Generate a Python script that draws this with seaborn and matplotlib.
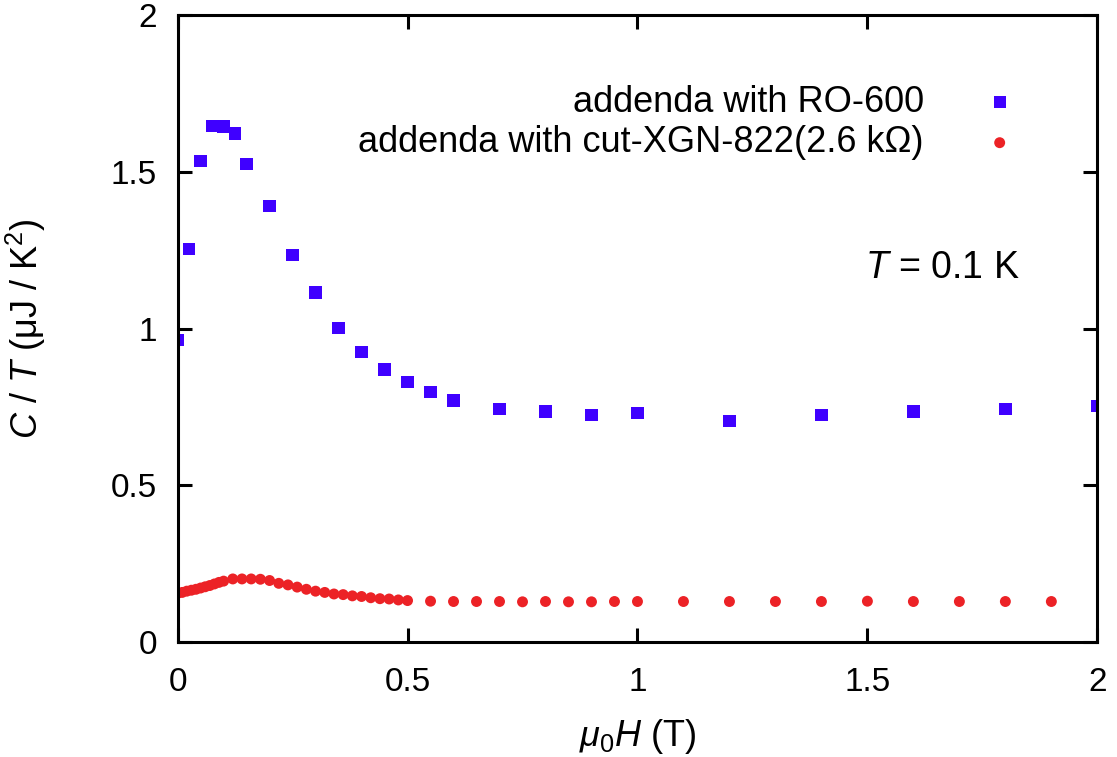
import matplotlib
matplotlib.use("Agg")
import matplotlib.pyplot as plt
import seaborn as sns
import pandas as pd

# addenda with RO-600 (blue squares)
ro_field = [0.0, 0.025, 0.05, 0.075, 0.1, 0.125, 0.15, 0.2, 0.25, 0.3, 0.35, 0.4,
            0.45, 0.5, 0.55, 0.6, 0.7, 0.8, 0.9, 1.0, 1.2, 1.4, 1.6, 1.8, 2.0]
ro_ct = [0.964, 1.254, 1.535, 1.647, 1.645, 1.622, 1.525, 1.391, 1.235, 1.115, 1.002, 0.925,
         0.869, 0.830, 0.798, 0.770, 0.744, 0.735, 0.725, 0.730, 0.706, 0.723, 0.735, 0.744, 0.754]

# addenda with cut-XGN-822 (red circles)
xgn_field = [0.0, 0.01, 0.02, 0.03, 0.04, 0.05, 0.06, 0.07, 0.08, 0.09, 0.1,
             0.12, 0.14, 0.16, 0.18, 0.2, 0.22, 0.24, 0.26, 0.28, 0.3, 0.32, 0.34,
             0.36, 0.38, 0.4, 0.42, 0.44, 0.46, 0.48, 0.5,
             0.55, 0.6, 0.65, 0.7, 0.75, 0.8, 0.85, 0.9, 0.95, 1.0,
             1.1, 1.2, 1.3, 1.4, 1.5, 1.6, 1.7, 1.8, 1.9]
xgn_ct = [0.155, 0.158, 0.162, 0.165, 0.168, 0.172, 0.176, 0.180, 0.185, 0.190, 0.194,
          0.201, 0.201, 0.201, 0.200, 0.196, 0.187, 0.182, 0.175, 0.168, 0.162, 0.158, 0.153,
          0.151, 0.147, 0.145, 0.141, 0.138, 0.137, 0.134, 0.132,
          0.130, 0.129, 0.129, 0.129, 0.128, 0.129, 0.128, 0.128, 0.129, 0.129,
          0.129, 0.129, 0.129, 0.129, 0.130, 0.129, 0.129, 0.129, 0.129]

labels = ["addenda with RO-600", "addenda with cut-XGN-822(2.6 k\u03a9)"]
x_ticks = [0, 0.5, 1, 1.5, 2]
y_ticks = [0, 0.5, 1, 1.5, 2]
x_tick_labels = ["0", "0.5", "1", "1.5", "2"]
y_tick_labels = ["0", "0.5", "1", "1.5", "2"]

sns.set_theme(style="ticks")
plt.rcParams["font.family"] = ["Liberation Sans", "DejaVu Sans"]
plt.rcParams["mathtext.fontset"] = "custom"
plt.rcParams["mathtext.rm"] = "Liberation Sans"
plt.rcParams["mathtext.it"] = "Liberation Sans:italic"
plt.rcParams["mathtext.bf"] = "Liberation Sans:bold"
for key in ["text.color", "axes.labelcolor", "xtick.color", "ytick.color", "axes.edgecolor"]:
    plt.rcParams[key] = "black"

df_ro = pd.DataFrame({"field": ro_field, "ct": ro_ct})
df_xgn = pd.DataFrame({"field": xgn_field, "ct": xgn_ct})

fig = plt.figure(figsize=(11.17, 7.57), dpi=100)
ax = fig.add_axes([0.159, 0.152, 0.8234, 0.828])

sns.scatterplot(data=df_ro, x="field", y="ct", ax=ax, marker="s", s=78,
                color="#3f00ff", edgecolor="none", linewidth=0, label=labels[0])
sns.scatterplot(data=df_xgn, x="field", y="ct", ax=ax, marker="o", s=62,
                color="#ec2226", edgecolor="none", linewidth=0, label=labels[1])

ax.set_xlim(0, 2)
ax.set_ylim(0, 2)
ax.set_xticks(x_ticks)
ax.set_xticklabels(x_tick_labels)
ax.set_yticks(y_ticks)
ax.set_yticklabels(y_tick_labels)

for side in ["top", "right", "bottom", "left"]:
    ax.spines[side].set_visible(True)
    ax.spines[side].set_linewidth(2.2)
ax.tick_params(direction="in", length=10, width=2.2, labelsize=24,
               top=True, right=True)
ax.tick_params(axis="x", pad=18)
ax.tick_params(axis="y", pad=15)

ax.set_xlabel(r"$\mu_0H$ (T)", fontsize=26)
ax.set_ylabel(r"$C$ / $T$ ($\mathrm{\mu}$J / K$^2$)", fontsize=26)
ax.xaxis.set_label_coords(0.5, -0.12)
ax.yaxis.set_label_coords(-0.141, 0.5)

ax.text(1.495, 1.193, r"$T$ = 0.1 K", fontsize=27, ha="left", va="center")

leg = ax.legend(loc="upper right", bbox_to_anchor=(0.937, 0.912), frameon=False,
                markerfirst=False, fontsize=26, handlelength=1.4, handletextpad=1.4,
                labelspacing=0.15, borderaxespad=0)
for col in leg._legend_handle_box.get_children():
    col.align = "right"

fig.savefig("out.png", dpi=100)
